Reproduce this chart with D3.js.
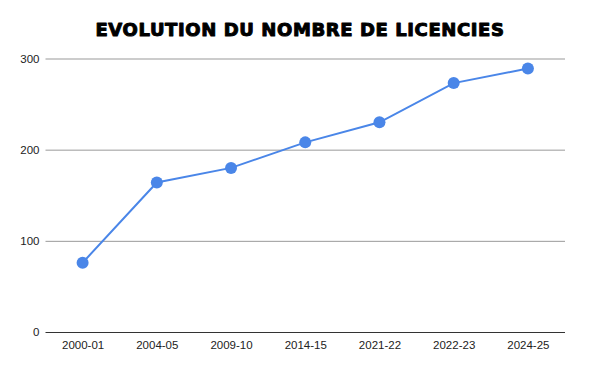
<!DOCTYPE html>
<html>
<head>
<meta charset="utf-8">
<script src="https://cdn.jsdelivr.net/npm/d3@7"></script>
<style>
	body { margin: 0; background: #fff; }
	svg { display: block; font-family: Arial, "Liberation Sans", sans-serif; }
</style>
</head>
<body>
<div data-chart></div>
<script>
const seasons = ['2000-01', '2004-05', '2009-10', '2014-15', '2021-22', '2022-23', '2024-25']
const licences = [76, 164, 180, 208, 230, 273, 289]
const yTicks = [0, 100, 200, 300]

const dimensions = {
	width: 600,
	height: 371,
	left: 45.5,
	right: 565,
	top: 58.5,
	bottom: 332
}

const svg = d3.select('[data-chart]')
	.append('svg')
	.attr('width', dimensions.width)
	.attr('height', dimensions.height)

const xScale = d3.scalePoint()
	.domain(seasons)
	.range([dimensions.left, dimensions.right])
	.padding(0.5)

const yScale = d3.scaleLinear()
	.domain([0, 300])
	.range([dimensions.bottom, dimensions.top])

/* Title */
svg.append('text')
	.attr('x', 300)
	.attr('y', 36)
	.attr('text-anchor', 'middle')
	.style('font-family', '"DejaVu Sans", sans-serif')
	.style('font-weight', 'bold')
	.style('font-size', '18px')
	.style('letter-spacing', '0.6px')
	.attr('fill', '#000')
	.attr('stroke', '#000')
	.attr('stroke-width', 1)
	.attr('stroke-linejoin', 'round')
	.text('EVOLUTION DU NOMBRE DE LICENCIES')

/* Grid + y axis */
const yAxis = d3.axisLeft(yScale)
	.tickValues(yTicks)
	.tickSize(-(dimensions.right - dimensions.left))
	.tickPadding(6)

svg.append('g')
	.attr('transform', `translate(${dimensions.left},0)`)
	.call(yAxis)
	.call(g => g.select('.domain').remove())
	.call(g => g.selectAll('.tick line')
		.attr('stroke', d => d === 0 ? '#333' : '#999')
		.attr('stroke-width', 1))
	.call(g => g.selectAll('.tick text')
		.attr('fill', '#222')
		.style('font-size', '11.5px'))

/* x axis */
const xAxis = d3.axisBottom(xScale)
	.tickSize(0)
	.tickPadding(9)

svg.append('g')
	.attr('transform', `translate(0,${dimensions.bottom})`)
	.call(xAxis)
	.call(g => g.select('.domain').remove())
	.call(g => g.selectAll('.tick text')
		.attr('fill', '#222')
		.style('font-size', '11.5px'))

/* Line */
const lineGenerator = d3.line()
	.x((d, i) => xScale(seasons[i]))
	.y(d => yScale(d))

svg.append('path')
	.datum(licences)
	.attr('d', lineGenerator)
	.attr('fill', 'none')
	.attr('stroke', '#4a86e8')
	.attr('stroke-width', 2)

/* Points */
svg.append('g')
	.selectAll('circle')
	.data(licences)
	.join('circle')
	.attr('cx', (d, i) => xScale(seasons[i]))
	.attr('cy', d => yScale(d))
	.attr('r', 6)
	.attr('fill', '#4a86e8')
</script>
</body>
</html>
